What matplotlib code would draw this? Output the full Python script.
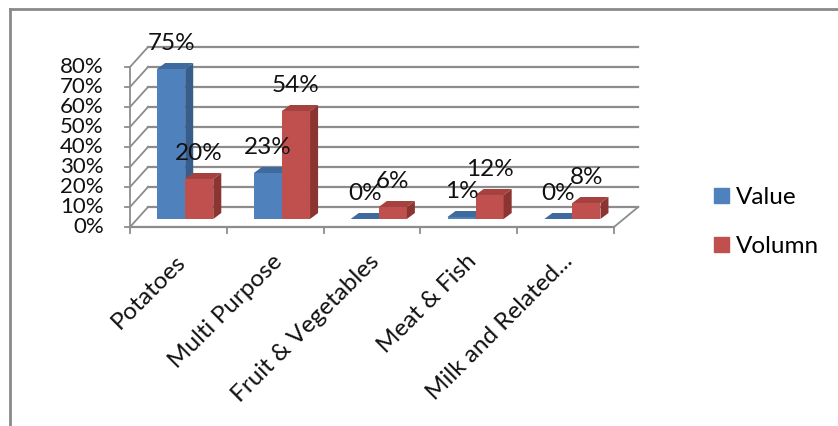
import matplotlib
matplotlib.use("Agg")
import matplotlib.pyplot as plt
from matplotlib.patches import Polygon, Patch
from matplotlib.lines import Line2D

categories = ["Potatoes", "Multi Purpose", "Fruit & Vegetables", "Meat & Fish", "Milk and Related..."]
value = [75, 23, 0, 1, 0]
volumn = [20, 54, 6, 12, 8]
y_ticks = [0, 10, 20, 30, 40, 50, 60, 70, 80]

plt.rcParams['font.family'] = ['Lato', 'DejaVu Sans']
FS_TICK = 16
FS = 17.5
grid_c = '#8c8c8c'
txt_c = '#111111'

# colours: front, side, top
blue = ('#4f81bd', '#385d8a', '#3f6a9e')
red = ('#c0504d', '#8b3431', '#a5413e')

fig = plt.figure(figsize=(8.38, 4.26), dpi=100)
ax = fig.add_axes([0, 0, 1, 1])
# 1 x unit = one category (96.8 px), 1 y unit = 1% (2 px)
ax.set_xlim(-130 / 96.8, (838 - 130) / 96.8)
ax.set_ylim(-(426 - 227) / 2, 227 / 2)
ax.axis('off')

# outer border (top and left only)
fig.add_artist(Line2D([10 / 838, 1], [1 - 9 / 426, 1 - 9 / 426], color='#8a8a8a', lw=2))
fig.add_artist(Line2D([10 / 838, 10 / 838], [0, 1 - 9 / 426], color='#8a8a8a', lw=2))

n = len(categories)
wx, wy = 0.186, 10          # depth of the walls
bx_r = 5.25                 # back right x of wall
# back wall gridlines and left wall diagonals
for v in y_ticks:
    ax.plot([wx, bx_r], [v + wy, v + wy], color=grid_c, lw=1.6, zorder=1)
    ax.plot([0, wx], [v, v + wy], color=grid_c, lw=1.3, zorder=1)
    ax.plot([-0.05, 0], [v, v], color=grid_c, lw=1.3, zorder=1)
    ax.text(-0.27, v, f"{v}%", ha='right', va='center', fontsize=FS_TICK, color=txt_c)
# front vertical axis
ax.plot([0, 0], [0, y_ticks[-1]], color=grid_c, lw=1.3, zorder=1)
# floor
ax.plot([bx_r, n], [wy, 0], color=grid_c, lw=1.3, zorder=1)
ax.plot([0, n], [0, 0], color=grid_c, lw=1.6, zorder=1)
for i in range(n + 1):
    ax.plot([i, i], [0, -3], color=grid_c, lw=1.3, zorder=1)

# bars
base = 4
bw = 0.29
ddx, ddy = 0.083, 3


def bar3d(x0, h, cols, label):
    ax.bar(x0, h, width=bw, bottom=base, align='edge', color=cols[0], zorder=3, linewidth=0)
    side = [(x0 + bw, base), (x0 + bw + ddx, base + ddy), (x0 + bw + ddx, base + h + ddy), (x0 + bw, base + h)]
    top = [(x0, base + h), (x0 + ddx, base + h + ddy), (x0 + bw + ddx, base + h + ddy), (x0 + bw, base + h)]
    ax.add_patch(Polygon(side, closed=True, color=cols[1], zorder=3, lw=0))
    ax.add_patch(Polygon(top, closed=True, color=cols[2], zorder=3, lw=0))
    ax.text(x0 + bw / 2, base + h + 13, label, ha='center', va='center', fontsize=FS,
            color=txt_c, zorder=5)


for i in range(n):
    bar3d(i + 0.28, value[i], blue, f"{value[i]}%")
    bar3d(i + 0.57, volumn[i], red, f"{volumn[i]}%")

# category labels
for i, c in enumerate(categories):
    ax.text(i + 0.54, -15.5, c, rotation=45, rotation_mode='anchor', ha='right', va='center',
            fontsize=FS, color=txt_c)

handles = [Patch(color=blue[0], label='Value'), Patch(color=red[0], label='Volumn')]
fig.legend(handles=handles, loc='upper left', bbox_to_anchor=(714 / 838, 1 - 187 / 426),
           frameon=False, fontsize=FS, handlelength=0.6, handleheight=0.6,
           handletextpad=0.3, labelspacing=1.15, borderpad=0, borderaxespad=0)

fig.savefig('out.png', dpi=100)
